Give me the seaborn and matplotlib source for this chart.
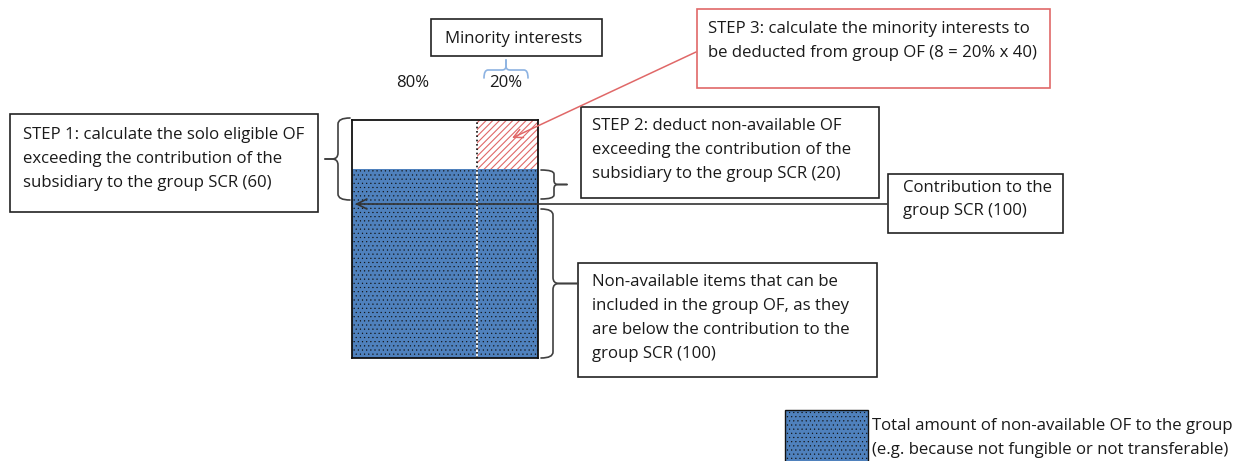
import numpy as np
import matplotlib
matplotlib.use("Agg")
import matplotlib.pyplot as plt
from matplotlib.patches import Rectangle, PathPatch
from matplotlib.path import Path
import seaborn as sns

# ---------------- data (the diagram is schematic) -----
share_labels = ["80%", "20%"]
column_widths = [0.67, 0.33]          # drawn widths of majority / minority parts
segment_names = ["Non-available below contribution",
                 "Non-available above contribution",
                 "Eligible OF above contribution"]
segment_heights = [100, 23, 32]        # stacked heights as drawn
contribution_level = 100

step1_lines = ["STEP 1: calculate the solo eligible OF",
               "exceeding the contribution of the",
               "subsidiary to the group SCR (60)"]
step2_lines = ["STEP 2: deduct non-available OF",
               "exceeding the contribution of the",
               "subsidiary to the group SCR (20)"]
step3_lines = ["STEP 3: calculate the minority interests to",
               "be deducted from group OF (8 = 20% x 40)"]
contrib_lines = ["Contribution to the", "group SCR (100)"]
nonavail_lines = ["Non-available items that can be",
                  "included in the group OF, as they",
                  "are below the contribution to the",
                  "group SCR (100)"]
legend_lines = ["Total amount of non-available OF to the group",
                "(e.g. because not fungible or not transferable)"]
minority_label = "Minority interests"

# ---------------- style ------------------------------------------------------
sns.set_theme(style="white")
plt.rcParams["font.family"] = ["Open Sans", "DejaVu Sans"]
BLUE = "#4f81bd"
RED = "#e06868"
TXT = "#1a1a1a"
FS = 12.1
DOTS = "...."

W, H = 1256, 461
fig = plt.figure(figsize=(W / 100, H / 100), dpi=100)

# bar axes (pixel box of the stacked bar)
bx0, bx1, by0, by1 = 352, 538, 120, 358
ax = fig.add_axes([bx0 / W, 1 - by1 / H, (bx1 - bx0) / W, (by1 - by0) / H])
ax.set_zorder(1)
total = sum(segment_heights)
ax.set_xlim(0, sum(column_widths))
ax.set_ylim(0, total)
ax.set_xticks([])
ax.set_yticks([])
for sp in ax.spines.values():
    sp.set_color("#111111")
    sp.set_linewidth(1.3)
    sp.set_visible(True)

lefts = np.concatenate([[0], np.cumsum(column_widths)[:-1]])
bottom = 0
for si, h in enumerate(segment_heights):
    for ci, w in enumerate(column_widths):
        if si < 2:
            kw = dict(facecolor=BLUE, edgecolor="#111111", hatch=DOTS, linewidth=0)
            hl = 0.35
        elif ci == 0:
            kw = dict(facecolor="white", edgecolor="white", linewidth=0)
            hl = 0.8
        else:
            kw = dict(facecolor="white", edgecolor=RED, hatch="/////", linewidth=0)
            hl = 0.8
        with plt.rc_context({"hatch.linewidth": hl}):
            ax.bar(lefts[ci], h, width=w, bottom=bottom, align="edge", **kw)
    bottom += h

blue_top = sum(segment_heights[:2])
ax.axvline(column_widths[0], ymax=blue_top / total, color="white", lw=1.3)
ax.axvline(column_widths[0], color="#111111", lw=1.2, ls=(0, (1, 1.6)))

# annotation overlay in pixel coordinates
an = fig.add_axes([0, 0, 1, 1])
an.set_zorder(2)
an.set_xlim(0, W)
an.set_ylim(H, 0)
an.axis("off")


def box(x0, y0, x1, y1, ec="#222222"):
    an.add_patch(Rectangle((x0, y0), x1 - x0, y1 - y0, fill=False,
                           edgecolor=ec, lw=1.2))


def lines(x, y0, dy, texts, **kw):
    for i, t in enumerate(texts):
        an.text(x, y0 + i * dy, t, fontsize=FS, color=TXT, va="baseline", **kw)


def brace(a0, a1, spine, end, tip, vertical=True, r=5, color="#404040", lw=1.2):
    m = (a0 + a1) / 2
    d = 1 if tip > spine else -1

    def P(a, b):
        return (b, a) if vertical else (a, b)

    for s, ae in ((1, a0), (-1, a1)):
        verts = [P(ae, end), P(ae, spine), P(ae + s * r, spine),
                 P(m - s * r, spine), P(m, spine), P(m, spine + d * r), P(m, tip)]
        codes = [Path.MOVETO, Path.CURVE3, Path.CURVE3, Path.LINETO,
                 Path.CURVE3, Path.CURVE3, Path.LINETO]
        an.add_patch(PathPatch(Path(verts, codes), fill=False, edgecolor=color,
                               lw=lw, capstyle="round"))


# STEP 1
box(10, 114, 318, 212)
lines(23, 139, 24, step1_lines)
brace(118, 200, 338, 350, 325, r=6)

# Minority interests
box(431, 19, 602, 56)
an.text(514, 43, minority_label, fontsize=FS, color=TXT, ha="center", va="baseline")
brace(484, 528, 70, 78, 60, vertical=False, r=4, color="#8db3e2")
an.text(413, 87, share_labels[0], fontsize=FS, color=TXT, ha="center", va="baseline")
an.text(506, 87, share_labels[1], fontsize=FS, color=TXT, ha="center", va="baseline")

# STEP 3
box(697, 9, 1050, 88, ec=RED)
lines(708, 33, 24, step3_lines)
an.annotate("", xy=(512, 138), xytext=(696, 52),
            arrowprops=dict(arrowstyle="->", color=RED, lw=1.1,
                            mutation_scale=16, shrinkA=0, shrinkB=0))

# STEP 2
box(581, 107, 879, 198)
lines(592, 130, 24, step2_lines)
brace(170, 199, 554, 541, 567, r=4)

# Contribution
box(888, 174, 1063, 233)
lines(903, 192, 23, contrib_lines)
an.annotate("", xy=(355, 204), xytext=(887, 204),
            arrowprops=dict(arrowstyle="->", color="#333333", lw=1.2,
                            mutation_scale=18, shrinkA=0, shrinkB=0))

# Non-available
box(578, 263, 877, 377)
lines(592, 286, 24, nonavail_lines)
brace(209, 358, 553, 541, 578, r=6)

# legend key
with plt.rc_context({"hatch.linewidth": 0.35}):
    an.add_patch(Rectangle((785, 410), 83, 60, facecolor=BLUE, edgecolor="#111111",
                           hatch=DOTS, lw=1.0))
lines(872, 430, 24, legend_lines)

fig.savefig("out.png", dpi=100)
